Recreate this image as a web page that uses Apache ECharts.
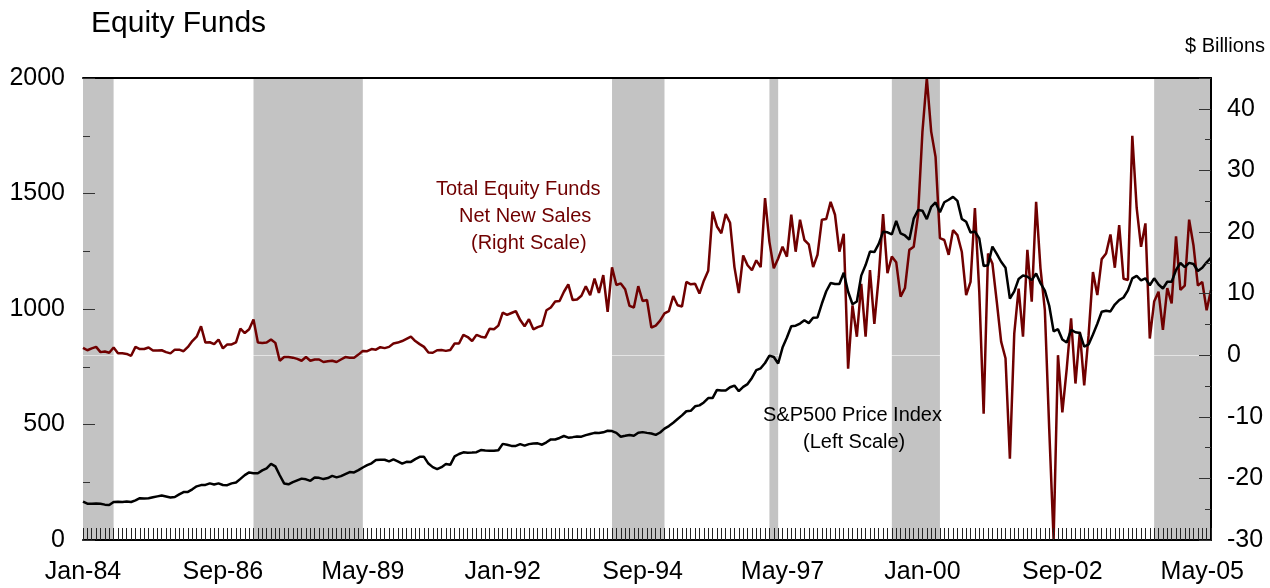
<!DOCTYPE html>
<html>
<head>
<meta charset="utf-8">
<script src="https://cdn.jsdelivr.net/npm/echarts@6/dist/echarts.min.js"></script>
<style>
  html, body { margin: 0; padding: 0; background: #fff; }
  #chart { width: 1270px; height: 588px; }
</style>
</head>
<body>
<div id="chart"></div>
<script>
// monthly, Jan-84 .. Jul-05
const monthNames = ['Jan', 'Feb', 'Mar', 'Apr', 'May', 'Jun', 'Jul', 'Aug', 'Sep', 'Oct', 'Nov', 'Dec']
const firstYear = 1984
const monthCount = 259
const categories = []
for (let i = 0; i < monthCount; i++) {
  const y = firstYear + Math.floor(i / 12)
  categories.push(monthNames[i % 12] + '-' + String(y).slice(2))
}
// a label every 32 months
const labelEvery = 32

// S&P500 price index, monthly average (left scale)
const spx = [
  166.4, 157.3, 157.4, 157.6, 156.6, 153.1, 151.1, 164.4, 166.1, 164.8, 166.3, 164.5,
  171.6, 180.9, 179.4, 180.6, 184.9, 188.9, 192.5, 188.3, 184.1, 186.2, 197.5, 207.3,
  208.2, 219.4, 232.3, 237.7, 238.5, 245.3, 240.2, 245.0, 238.3, 237.4, 245.1, 248.6,
  264.5, 280.9, 292.5, 289.3, 289.1, 301.4, 310.1, 329.4, 318.7, 280.2, 245.0, 241.0,
  250.5, 258.1, 265.7, 262.6, 256.1, 270.7, 269.1, 263.7, 268.0, 277.4, 271.0, 276.5,
  285.4, 294.0, 292.7, 302.3, 313.9, 323.7, 331.9, 346.6, 347.3, 347.4, 340.2, 348.6,
  340.0, 330.5, 338.5, 338.2, 350.3, 360.0, 360.0, 330.8, 315.4, 307.1, 315.3, 328.8,
  325.5, 362.3, 372.3, 379.7, 378.0, 378.3, 380.2, 389.4, 387.2, 386.9, 385.9, 388.5,
  416.1, 412.6, 407.4, 407.4, 414.8, 408.3, 415.1, 417.9, 418.5, 412.5, 422.8, 435.6,
  435.2, 441.7, 450.2, 443.1, 445.3, 448.1, 447.3, 454.1, 459.2, 463.9, 462.9, 466.0,
  473.0, 471.6, 463.8, 447.2, 450.9, 454.8, 451.4, 464.2, 467.0, 463.8, 461.0, 455.2,
  465.3, 481.9, 493.2, 507.9, 523.8, 539.4, 557.4, 559.1, 578.8, 582.9, 595.5, 614.6,
  614.4, 649.5, 647.1, 647.2, 661.2, 668.5, 644.1, 662.7, 674.9, 701.5, 735.7, 743.3,
  766.2, 798.4, 792.2, 763.9, 833.1, 876.3, 925.3, 927.7, 937.0, 951.2, 938.9, 962.4,
  963.4, 1023.7, 1076.8, 1112.2, 1108.4, 1108.4, 1156.6, 1074.6, 1020.6, 1032.5, 1144.4, 1190.1,
  1248.8, 1246.6, 1281.7, 1334.8, 1332.1, 1322.6, 1381.0, 1327.5, 1318.2, 1300.0, 1391.0, 1428.7,
  1425.6, 1388.9, 1442.2, 1461.4, 1418.5, 1462.0, 1473.0, 1485.5, 1468.1, 1390.1, 1378.0, 1330.9,
  1335.6, 1305.8, 1185.9, 1189.8, 1270.4, 1238.7, 1204.5, 1178.5, 1044.6, 1076.6, 1129.7, 1144.9,
  1140.2, 1125.0, 1153.8, 1112.0, 1079.3, 1014.0, 903.6, 912.6, 867.8, 854.6, 909.9, 899.2,
  895.8, 837.6, 846.6, 890.0, 936.0, 988.0, 992.5, 989.5, 1019.4, 1038.7, 1049.9, 1080.6,
  1132.5, 1143.4, 1124.0, 1133.0, 1102.8, 1132.8, 1105.9, 1088.9, 1117.7, 1118.1, 1168.9, 1199.2,
  1181.4, 1199.6, 1194.9, 1164.4, 1178.3, 1202.3, 1222.2
]

// total equity funds net new sales, $ billions (right scale)
const netSales = [
  1.2, 0.8, 1.1, 1.35, 0.5, 0.6, 0.4, 1.25, 0.3, 0.3, 0.2, -0.1,
  1.35, 1.0, 1.0, 1.25, 0.75, 0.75, 0.8, 0.5, 0.3, 0.9, 0.9, 0.65,
  1.35, 2.3, 3.0, 4.7, 2.05, 2.1, 1.8, 2.55, 1.1, 1.75, 1.75, 2.1,
  4.3, 3.6, 4.2, 5.8, 2.05, 2.0, 2.05, 2.55, 2.0, -0.9, -0.3, -0.3,
  -0.4, -0.6, -0.9, -0.3, -0.9, -0.7, -0.7, -1.1, -1.0, -0.9, -1.1, -0.7,
  -0.3, -0.4, -0.4, 0.1, 0.7, 0.65, 1.0, 0.9, 1.3, 1.15, 1.35, 1.9,
  2.05, 2.3, 2.65, 3.0, 2.3, 1.8, 1.35, 0.45, 0.4, 0.8, 0.85, 0.7,
  0.85, 1.9, 1.9, 3.3, 2.95, 2.3, 3.3, 3.0, 2.85, 4.3, 4.2, 4.8,
  6.9, 6.55, 6.85, 7.15, 5.7, 4.7, 5.85, 4.2, 4.55, 4.8, 7.3, 7.75,
  8.7, 8.8, 10.3, 11.5, 8.95, 9.05, 9.65, 11.2, 9.75, 12.45, 10.1, 13.0,
  7.05, 14.25, 11.4, 11.65, 10.7, 8.0, 7.75, 11.2, 8.8, 8.95, 4.5, 4.8,
  5.6, 6.8, 7.15, 9.6, 8.1, 7.9, 11.9, 11.5, 11.6, 10.0, 12.1, 13.7,
  23.3, 20.9, 19.8, 22.9, 21.5, 14.3, 10.1, 16.2, 14.6, 13.8, 15.4, 14.3,
  25.5, 18.4, 14.1, 15.7, 17.6, 16.0, 22.8, 16.8, 22.0, 18.7, 18.0, 14.3,
  16.3, 22.0, 22.1, 24.9, 22.8, 16.8, 19.7, -2.2, 8.1, 3.0, 11.6, 3.0,
  13.8, 5.1, 12.7, 22.9, 13.3, 16.0, 15.1, 9.5, 10.9, 17.1, 17.6, 22.8,
  36.3, 45.0, 36.3, 32.2, 19.0, 18.7, 16.3, 20.3, 19.5, 16.8, 9.75, 11.9,
  23.9, 10.3, -9.5, 16.5, 14.9, 8.7, 2.2, -0.5, -16.8, 3.5, 10.8, 3.0,
  17.1, 8.7, 24.9, 14.1, 7.3, -12.0, -30.0, 0.0, -9.3, -2.2, 6.0, -4.6,
  3.8, -4.9, 3.25, 13.5, 9.75, 15.6, 16.5, 19.6, 14.2, 21.1, 12.4, 12.2,
  35.6, 23.9, 17.6, 21.4, 2.7, 8.7, 10.3, 4.1, 10.9, 8.4, 19.3, 10.6,
  11.3, 22.0, 17.8, 11.3, 11.9, 7.3, 10.6
]

// shaded periods
const bandStart = ['Jan-84', 'Apr-87', 'Feb-94', 'Feb-97', 'Jun-99', 'Jun-04']
const bandEnd = ['Aug-84', 'May-89', 'Feb-95', 'Apr-97', 'May-00', 'Jul-05']

const leftTicks = { min: 0, max: 2000, step: 500 }
const rightTicks = { min: -30, max: 45, step: 10 }

const FONT = '"Liberation Sans", Arial, sans-serif'
const RED = '#700000'

const chart = echarts.init(document.getElementById('chart'))

const bands = bandStart.map((s, i) => [{ xAxis: s }, { xAxis: bandEnd[i] }])

const option = {
  animation: false,
  textStyle: { fontFamily: FONT },
  title: {
    text: 'Equity Funds',
    left: 86,
    top: 4,
    textStyle: { fontFamily: FONT, fontSize: 30, fontWeight: 'normal', color: '#000' }
  },
  grid: { left: 83, right: 59, top: 78, bottom: 48, containLabel: false },
  xAxis: [{
    type: 'category',
    data: categories,
    boundaryGap: false,
    z: 10,
    axisLine: { onZero: false, lineStyle: { color: '#000', width: 2 } },
    axisTick: { inside: true, length: 12, interval: 0, lineStyle: { color: '#222', width: 1 } },
    axisLabel: {
      interval: idx => idx % labelEvery === 0,
      fontSize: 25, color: '#000', margin: 20, fontFamily: FONT
    },
    splitLine: { show: false }
  }, {
    type: 'category',
    data: categories,
    boundaryGap: false,
    position: 'top',
    z: 10,
    axisLine: { onZero: false, lineStyle: { color: '#000', width: 2 } },
    axisTick: { show: false },
    axisLabel: { show: false },
    splitLine: { show: false }
  }],
  yAxis: [{
    type: 'value',
    position: 'left',
    min: leftTicks.min,
    max: leftTicks.max,
    interval: leftTicks.step,
    z: 10,
    axisLine: { show: false },
    axisTick: { show: true, inside: true, length: 12, lineStyle: { color: '#333', width: 1 } },
    minorTick: { show: true, splitNumber: 2, length: 7, lineStyle: { color: '#333', width: 1 } },
    axisLabel: { fontSize: 25, color: '#000', margin: 18, fontFamily: FONT, formatter: v => String(v) },
    splitLine: { show: false }
  }, {
    type: 'value',
    position: 'right',
    min: rightTicks.min,
    max: rightTicks.max,
    interval: rightTicks.step,
    z: 10,
    axisLine: { show: true, onZero: false, lineStyle: { color: '#000', width: 2 } },
    axisTick: { show: true, inside: true, length: 12, lineStyle: { color: '#333', width: 1 } },
    axisLabel: {
      fontSize: 25, color: '#000', margin: 16, fontFamily: FONT,
      formatter: v => (v % rightTicks.step === 0 ? String(v) : '')
    },
    splitLine: { show: false }
  }, {
    type: 'value',
    position: 'right',
    min: rightTicks.min,
    max: rightTicks.max,
    interval: rightTicks.step / 2,
    z: 10,
    axisLine: { show: false, onZero: false },
    axisTick: { show: true, inside: true, length: 6, lineStyle: { color: '#333', width: 1 } },
    axisLabel: { show: false },
    splitLine: { show: false }
  }],
  graphic: [
    { type: 'text', right: 5, top: 36, z: 100, style: { text: '$ Billions', font: '20px ' + FONT, fill: '#000' } },
    { type: 'text', left: 436, top: 179, z: 100, style: { text: 'Total Equity Funds', font: '20px ' + FONT, fill: RED } },
    { type: 'text', left: 459, top: 206, z: 100, style: { text: 'Net New Sales', font: '20px ' + FONT, fill: RED } },
    { type: 'text', left: 471, top: 233, z: 100, style: { text: '(Right Scale)', font: '20px ' + FONT, fill: RED } },
    { type: 'text', left: 763, top: 405, z: 100, style: { text: 'S&P500 Price Index', font: '20px ' + FONT, fill: '#000' } },
    { type: 'text', left: 803, top: 432, z: 100, style: { text: '(Left Scale)', font: '20px ' + FONT, fill: '#000' } }
  ],
  series: [{
    name: 'bands',
    type: 'line',
    xAxisIndex: 0,
    yAxisIndex: 1,
    data: [],
    z: 1,
    silent: true,
    markArea: {
      silent: true,
      itemStyle: { color: '#c3c3c3' },
      data: bands
    },
    markLine: {
      silent: true,
      z: 1,
      symbol: 'none',
      label: { show: false },
      lineStyle: { color: 'rgba(255,255,255,0.55)', width: 1, type: 'solid' },
      data: [{ yAxis: 0 }]
    }
  }, {
    name: 'Total Equity Funds Net New Sales',
    type: 'line',
    xAxisIndex: 0,
    yAxisIndex: 1,
    data: netSales,
    symbol: 'none',
    lineStyle: { color: RED, width: 2.5 },
    itemStyle: { color: RED },
    z: 3
  }, {
    name: 'S&P500 Price Index',
    type: 'line',
    xAxisIndex: 0,
    yAxisIndex: 0,
    data: spx,
    symbol: 'none',
    lineStyle: { color: '#000', width: 2.5 },
    itemStyle: { color: '#000' },
    z: 4
  }]
}

chart.setOption(option)
</script>
</body>
</html>
